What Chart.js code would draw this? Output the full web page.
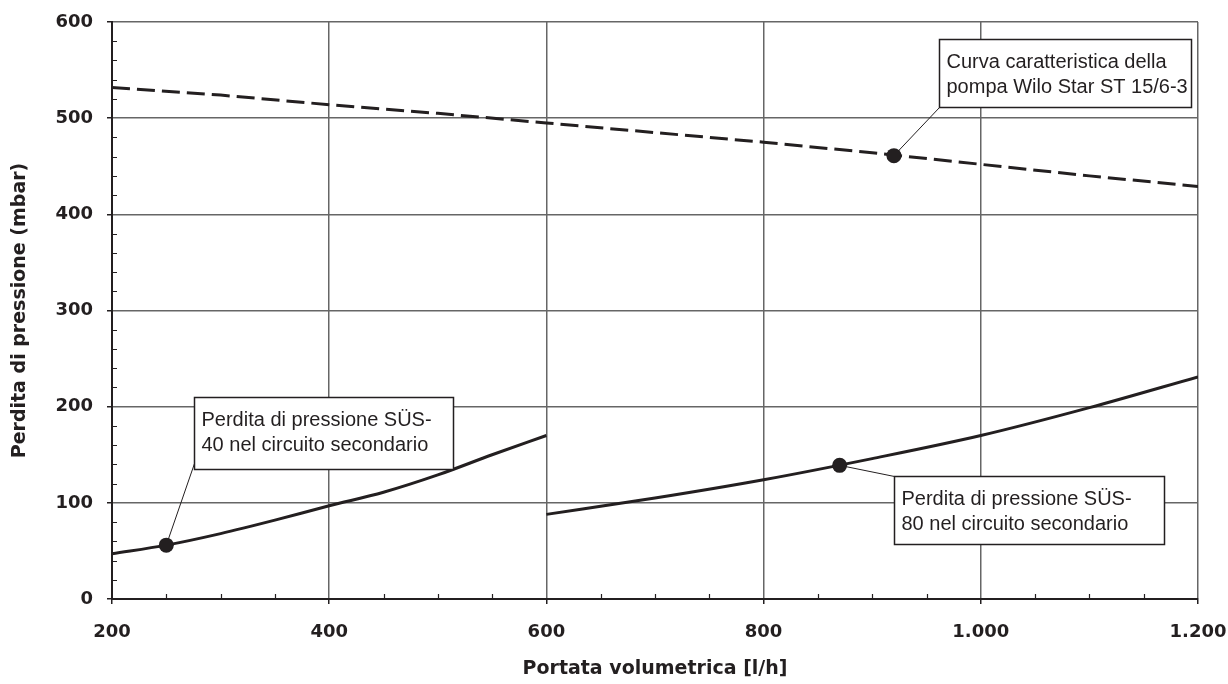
<!DOCTYPE html>
<html>
<head>
<meta charset="utf-8">
<script src="https://cdn.jsdelivr.net/npm/chart.js@4/dist/chart.umd.min.js"></script>
<style>
  html, body { margin: 0; padding: 0; background: #fff; }
  #wrap { width: 1228px; height: 684px; }
</style>
</head>
<body>
<div id="wrap"><canvas id="chart" width="1228" height="684"></canvas></div>
<script>
// flow rates [l/h] and pressure values [mbar]
const flowPump = [200, 300, 400, 500, 600, 700, 800, 900, 1000, 1100, 1200];
const pumpHead = [532, 524, 514, 505, 495, 485, 475, 464, 452, 440, 429];

const flow40 = [200, 250, 300, 350, 400, 450, 500, 550, 600];
const loss40 = [47, 56, 68, 82, 97, 111, 129, 150, 170];

const flow80 = [600, 700, 800, 900, 1000, 1100, 1200];
const loss80 = [88, 105, 124, 146, 170, 199, 231];

// points marked on the curves (pump, SÜS-40, SÜS-80)
const markX = [920, 250, 870];
const markY = [461, 56, 139];

const xTicks = [200, 400, 600, 800, 1000, 1200];
const yTicks = [0, 100, 200, 300, 400, 500, 600];

const noteTexts = [
  ['Curva caratteristica della', 'pompa Wilo Star ST 15/6-3'],
  ['Perdita di pressione SÜS-', '40 nel circuito secondario'],
  ['Perdita di pressione SÜS-', '80 nel circuito secondario']
];

const ink = '#231f20';
const gridCol = '#666666';

function toPoints(xs, ys) {
  return xs.map((x, i) => ({ x: x, y: ys[i] }));
}

function fmtThousands(v) {
  if (v < 1000) return String(v);
  return Math.floor(v / 1000) + '.' + String(v % 1000).padStart(3, '0');
}

// box placement relative to the marker it points at (pixels): dx, dy, w, h, leader end corner
const noteBoxes = [
  { dx: 45, dy: -117, w: 252, h: 68, lx: 0, ly: 68 },
  { dx: 28, dy: -148, w: 259, h: 72, lx: 0, ly: 66 },
  { dx: 54, dy: 11, w: 270, h: 68, lx: 0, ly: 0 }
];

const minorTicks = {
  id: 'minorTicks',
  afterDraw(chart) {
    const ctx = chart.ctx;
    const xs = chart.scales.x, ys = chart.scales.y;
    const area = chart.chartArea;
    ctx.save();
    ctx.strokeStyle = ink;
    ctx.lineWidth = 1.2;
    ctx.beginPath();
    for (let v = 250; v < 1200; v += 50) {
      if (v % 200 === 0) continue;
      const px = Math.round(xs.getPixelForValue(v)) + 0.5;
      ctx.moveTo(px, area.bottom);
      ctx.lineTo(px, area.bottom - 5);
    }
    for (let v = 20; v < 600; v += 20) {
      if (v % 100 === 0) continue;
      const py = Math.round(ys.getPixelForValue(v)) + 0.5;
      ctx.moveTo(area.left, py);
      ctx.lineTo(area.left + 5, py);
    }
    ctx.stroke();
    ctx.restore();
  }
};

const notes = {
  id: 'notes',
  afterDatasetsDraw(chart) {
    const ctx = chart.ctx;
    const xs = chart.scales.x, ys = chart.scales.y;
    ctx.save();
    noteBoxes.forEach((b, i) => {
      const mx = xs.getPixelForValue(markX[i]);
      const my = ys.getPixelForValue(markY[i]);
      const bx = Math.round(mx + b.dx) + 0.5;
      const by = Math.round(my + b.dy) + 0.5;
      // leader line
      ctx.strokeStyle = ink;
      ctx.lineWidth = 1;
      ctx.beginPath();
      ctx.moveTo(mx, my);
      ctx.lineTo(bx + b.lx, by + b.ly);
      ctx.stroke();
      // box
      ctx.fillStyle = '#fff';
      ctx.fillRect(bx, by, b.w, b.h);
      ctx.lineWidth = 1.5;
      ctx.strokeRect(bx, by, b.w, b.h);
      // text
      ctx.fillStyle = ink;
      ctx.font = '20px "Liberation Sans", Arial, sans-serif';
      ctx.textBaseline = 'alphabetic';
      ctx.textAlign = 'left';
      noteTexts[i].forEach((t, k) => {
        ctx.fillText(t, bx + 7, by + 28 + k * 25);
      });
    });
    // markers on top of the leaders
    ctx.fillStyle = ink;
    markX.forEach((x, i) => {
      ctx.beginPath();
      ctx.arc(xs.getPixelForValue(x), ys.getPixelForValue(markY[i]), 7.5, 0, Math.PI * 2);
      ctx.fill();
    });
    ctx.restore();
  }
};

var ctx = document.getElementById('chart').getContext('2d');
var chart = new Chart(ctx, {
  type: 'line',
  data: {
    datasets: [{
      label: 'Curva caratteristica della pompa Wilo Star ST 15/6-3',
      data: toPoints(flowPump, pumpHead),
      borderColor: ink,
      borderWidth: 3,
      borderDash: [18, 7],
      pointRadius: 0,
      tension: 0
    }, {
      label: 'Perdita di pressione SÜS-40 nel circuito secondario',
      data: toPoints(flow40, loss40),
      borderColor: ink,
      borderWidth: 3,
      pointRadius: 0,
      cubicInterpolationMode: 'monotone'
    }, {
      label: 'Perdita di pressione SÜS-80 nel circuito secondario',
      data: toPoints(flow80, loss80),
      borderColor: ink,
      borderWidth: 3,
      pointRadius: 0,
      cubicInterpolationMode: 'monotone'
    }]
  },
  options: {
    responsive: false,
    animation: false,
    events: [],
    layout: { padding: { top: 22, right: 30, left: 0, bottom: 0 } },
    plugins: {
      legend: { display: false },
      tooltip: { enabled: false }
    },
    scales: {
      x: {
        type: 'linear',
        min: 200,
        max: 1200,
        afterBuildTicks: (s) => { s.ticks = xTicks.map(v => ({ value: v })); },
        afterFit: (s) => { s.height = 85; s.paddingLeft = 0; s.paddingRight = 0; },
        grid: { color: gridCol, lineWidth: 1.5, tickLength: 5, tickColor: ink },
        border: { color: ink, width: 2 },
        ticks: {
          color: ink,
          padding: 18,
          maxRotation: 0,
          font: { family: '"DejaVu Sans", sans-serif', weight: 'bold', size: 18 },
          callback: (v) => fmtThousands(v)
        },
        title: {
          display: true,
          text: 'Portata volumetrica [l/h]',
          color: ink,
          padding: { top: 4, bottom: 4 },
          font: { family: '"DejaVu Sans", sans-serif', weight: 'bold', size: 19 }
        }
      },
      y: {
        min: 0,
        max: 600,
        afterBuildTicks: (s) => { s.ticks = yTicks.map(v => ({ value: v })); },
        afterFit: (s) => { s.width = 112; s.paddingTop = 0; s.paddingBottom = 0; },
        grid: { color: gridCol, lineWidth: 1.5, tickLength: 5, tickColor: ink },
        border: { color: ink, width: 2 },
        ticks: {
          color: ink,
          padding: 14,
          font: { family: '"DejaVu Sans", sans-serif', weight: 'bold', size: 18 }
        },
        title: {
          display: true,
          text: 'Perdita di pressione (mbar)',
          color: ink,
          padding: { top: 9, bottom: 4 },
          font: { family: '"DejaVu Sans", sans-serif', weight: 'bold', size: 19 }
        }
      }
    }
  },
  plugins: [minorTicks, notes]
});
</script>
</body>
</html>
